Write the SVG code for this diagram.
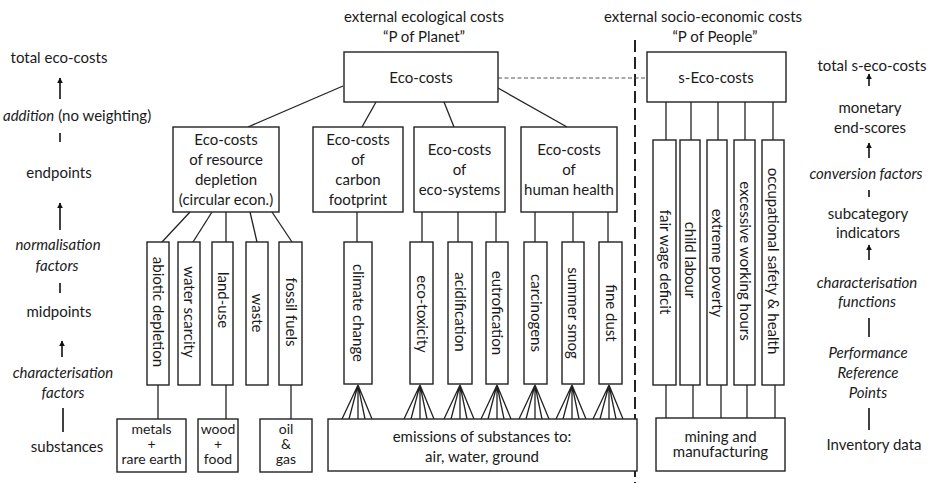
<svg xmlns="http://www.w3.org/2000/svg" width="935" height="483" viewBox="0 0 935 483">
<defs>
<style>
text{font-family:Lato,"Open Sans","Liberation Sans",sans-serif;font-size:15px;fill:#1a1a1a;text-anchor:middle}
.i{font-style:italic}
.s{font-size:14px}
.box{fill:#fff;stroke:#222;stroke-width:1.4}
.ln{stroke:#222;stroke-width:1.3;fill:none}
.ar{stroke:#111;stroke-width:1.6;fill:none}
</style>
<marker id="ah" viewBox="0 0 10 10" refX="9" refY="5" markerWidth="6" markerHeight="6" markerUnits="userSpaceOnUse" orient="auto"><path d="M0,0 L10,5 L0,10 z" fill="#111"/></marker>
</defs>
<rect width="935" height="483" fill="#fff"/>

<!-- left column -->
<g id="left-scale">
<text x="59" y="63">total eco-costs</text>
<line class="ar" x1="60" y1="99" x2="60" y2="78" marker-end="url(#ah)"/>
<text x="3" y="121" style="text-anchor:start"><tspan class="i">addition</tspan> (no weighting)</text>
<line class="ar" x1="60" y1="133" x2="60" y2="142"/>
<text x="59" y="178">endpoints</text>
<line class="ar" x1="60" y1="230" x2="60" y2="203" marker-end="url(#ah)"/>
<text class="i" x="58" y="250">normalisation</text>
<text class="i" x="57" y="271">factors</text>
<line class="ar" x1="60" y1="283" x2="60" y2="293"/>
<text x="59" y="317">midpoints</text>
<line class="ar" x1="62" y1="357" x2="62" y2="341" marker-end="url(#ah)"/>
<text class="i" x="63" y="378">characterisation</text>
<text class="i" x="63" y="398">factors</text>
<line class="ar" x1="63" y1="408" x2="63" y2="432"/>
<text x="67" y="452">substances</text>
</g>

<!-- right column -->
<g id="right-scale">
<text x="872" y="71">total s-eco-costs</text>
<line class="ar" x1="869" y1="86" x2="869" y2="74" marker-end="url(#ah)"/>
<text x="870" y="113">monetary</text>
<text x="870" y="133">end-scores</text>
<line class="ar" x1="869" y1="158" x2="869" y2="143" marker-end="url(#ah)"/>
<text class="i" x="866" y="179">conversion factors</text>
<line class="ar" x1="869" y1="190" x2="869" y2="197"/>
<text x="868" y="219">subcategory</text>
<text x="868" y="238">indicators</text>
<line class="ar" x1="869" y1="260" x2="869" y2="245" marker-end="url(#ah)"/>
<text class="i" x="867" y="288">characterisation</text>
<text class="i" x="867" y="307">functions</text>
<line class="ar" x1="869" y1="318" x2="869" y2="337"/>
<text class="i" x="868" y="358">Performance</text>
<text class="i" x="868" y="378">Reference</text>
<text class="i" x="868" y="398">Points</text>
<line class="ar" x1="869" y1="408" x2="869" y2="430"/>
<text x="874" y="450">Inventory data</text>
</g>

<!-- headings -->
<g id="heading-planet">
<text x="424" y="22">external ecological costs</text>
<text x="424" y="42">“P of Planet”</text>
</g>
<g id="heading-people">
<text x="703" y="22">external socio-economic costs</text>
<text x="715" y="42">“P of People”</text>
</g>

<!-- connectors -->
<g id="connectors">
<line x1="635" y1="40" x2="635" y2="483" stroke="#222" stroke-width="2" stroke-dasharray="12,5"/>
<line x1="498" y1="78" x2="647" y2="78" stroke="#555" stroke-width="1" stroke-dasharray="4,2.5"/>
<line class="ln" x1="343" y1="86" x2="248" y2="127"/>
<line class="ln" x1="376" y1="102" x2="362" y2="127"/>
<line class="ln" x1="444" y1="102" x2="454" y2="127"/>
<line class="ln" x1="498" y1="88" x2="567" y2="127"/>
<line class="ln" x1="190" y1="212" x2="162" y2="242"/>
<line class="ln" x1="212" y1="212" x2="193" y2="242"/>
<line class="ln" x1="226" y1="212" x2="226" y2="242"/>
<line class="ln" x1="250" y1="212" x2="257" y2="242"/>
<line class="ln" x1="272" y1="212" x2="292" y2="242"/>
<line class="ln" x1="357" y1="212" x2="357" y2="242"/>
<line class="ln" x1="422" y1="212" x2="422" y2="242"/>
<line class="ln" x1="458" y1="212" x2="458" y2="242"/>
<line class="ln" x1="496" y1="212" x2="496" y2="242"/>
<line class="ln" x1="535" y1="212" x2="535" y2="242"/>
<line class="ln" x1="573" y1="212" x2="573" y2="242"/>
<line class="ln" x1="608" y1="212" x2="608" y2="242"/>
<line class="ln" x1="158" y1="385" x2="158" y2="419"/>
<line class="ln" x1="226" y1="385" x2="226" y2="419"/>
<line class="ln" x1="291" y1="385" x2="291" y2="419"/>
<g class="ln">
<path d="M358,385 L342,419 M358,385 L349,419 M358,385 L358,419 M358,385 L365,419 M358,385 L372,419"/>
<path d="M420,385 L404,419 M420,385 L411,419 M420,385 L420,419 M420,385 L427,419 M420,385 L434,419"/>
<path d="M460,385 L444,419 M460,385 L451,419 M460,385 L460,419 M460,385 L467,419 M460,385 L474,419"/>
<path d="M497,385 L481,419 M497,385 L488,419 M497,385 L497,419 M497,385 L504,419 M497,385 L511,419"/>
<path d="M535,385 L519,419 M535,385 L526,419 M535,385 L535,419 M535,385 L542,419 M535,385 L549,419"/>
<path d="M572,385 L556,419 M572,385 L563,419 M572,385 L572,419 M572,385 L579,419 M572,385 L586,419"/>
<path d="M609,385 L593,419 M609,385 L600,419 M609,385 L609,419 M609,385 L616,419 M609,385 L623,419"/>
</g>
<line class="ln" x1="666" y1="102" x2="666" y2="140"/>
<line class="ln" x1="691" y1="102" x2="691" y2="140"/>
<line class="ln" x1="718" y1="102" x2="718" y2="140"/>
<line class="ln" x1="745" y1="102" x2="745" y2="140"/>
<line class="ln" x1="773" y1="102" x2="773" y2="140"/>
<line class="ln" x1="666" y1="385" x2="666" y2="418"/>
<line class="ln" x1="693" y1="385" x2="693" y2="418"/>
<line class="ln" x1="721" y1="385" x2="721" y2="418"/>
<line class="ln" x1="747" y1="385" x2="747" y2="418"/>
<line class="ln" x1="775" y1="385" x2="775" y2="418"/>
</g>

<g id="eco-costs"><rect class="box" x="344" y="52" width="154" height="50"/><text x="421" y="83">Eco-costs</text></g>
<g id="s-eco-costs"><rect class="box" x="647" y="52" width="139" height="50"/><text x="716" y="83">s-Eco-costs</text></g>

<g id="resource-depletion"><rect class="box" x="173" y="127" width="106" height="85"/>
<text x="226" y="145">Eco-costs</text><text x="226" y="165">of resource</text><text x="226" y="185">depletion</text><text x="226" y="205">(circular econ.)</text></g>
<g id="carbon-footprint"><rect class="box" x="313" y="127" width="90" height="85"/>
<text x="358" y="145">Eco-costs</text><text x="358" y="165">of</text><text x="358" y="185">carbon</text><text x="358" y="205">footprint</text></g>
<g id="eco-systems"><rect class="box" x="414" y="127" width="91" height="85"/>
<text x="459.5" y="155">Eco-costs</text><text x="459.5" y="175">of</text><text x="459.5" y="195">eco-systems</text></g>
<g id="human-health"><rect class="box" x="521" y="127" width="96" height="85"/>
<text x="569" y="155">Eco-costs</text><text x="569" y="175">of</text><text x="569" y="195">human health</text></g>

<g id="abiotic-depletion"><rect class="box" x="147" y="242" width="22" height="143"/><text transform="translate(158,312) rotate(90)" y="5">abiotic depletion</text></g>
<g id="water-scarcity"><rect class="box" x="178" y="242" width="22" height="143"/><text transform="translate(189,312) rotate(90)" y="5">water scarcity</text></g>
<g id="land-use"><rect class="box" x="212" y="242" width="21" height="143"/><text transform="translate(222.5,300) rotate(90)" y="5">land-use</text></g>
<g id="waste"><rect class="box" x="246" y="242" width="22" height="143"/><text transform="translate(257,313) rotate(90)" y="5">waste</text></g>
<g id="fossil-fuels"><rect class="box" x="279" y="242" width="23" height="143"/><text transform="translate(290.5,312) rotate(90)" y="5">fossil fuels</text></g>

<g id="climate-change"><rect class="box" x="344" y="242" width="28" height="142"/><text transform="translate(358,313) rotate(90)" y="5">climate change</text></g>
<g id="eco-toxicity"><rect class="box" x="410" y="242" width="23" height="142"/><text transform="translate(421.5,314) rotate(90)" y="5">eco-toxicity</text></g>
<g id="acidification"><rect class="box" x="448" y="242" width="24" height="142"/><text transform="translate(460,312) rotate(90)" y="5">acidification</text></g>
<g id="eutrofication"><rect class="box" x="486" y="242" width="22" height="142"/><text transform="translate(497,313) rotate(90)" y="5">eutrofication</text></g>
<g id="carcinogens"><rect class="box" x="524" y="242" width="23" height="142"/><text transform="translate(535.5,313) rotate(90)" y="5">carcinogens</text></g>
<g id="summer-smog"><rect class="box" x="562" y="242" width="22" height="142"/><text transform="translate(573,313) rotate(90)" y="5">summer smog</text></g>
<g id="fine-dust"><rect class="box" x="599" y="242" width="23" height="142"/><text transform="translate(610.5,313) rotate(90)" y="5">fine dust</text></g>

<g id="fair-wage-deficit"><rect class="box" x="653" y="140" width="23" height="245"/><text transform="translate(664.5,262) rotate(90)" y="5">fair wage deficit</text></g>
<g id="child-labour"><rect class="box" x="680" y="140" width="20" height="245"/><text transform="translate(690,260) rotate(90)" y="5">child labour</text></g>
<g id="extreme-poverty"><rect class="box" x="707" y="140" width="20" height="245"/><text transform="translate(717,263) rotate(90)" y="5">extreme poverty</text></g>
<g id="excessive-working-hours"><rect class="box" x="734" y="140" width="21" height="245"/><text transform="translate(744.5,261) rotate(90)" y="5">excessive working hours</text></g>
<g id="occupational-safety"><rect class="box" x="762" y="140" width="22" height="245"/><text transform="translate(773,261) rotate(90)" y="5">occupational safety &amp; health</text></g>

<g id="metals"><rect class="box" x="117" y="419" width="69" height="53"/>
<text class="s" x="151.5" y="434">metals</text><text class="s" x="151.5" y="449">+</text><text class="s" x="151.5" y="464">rare earth</text></g>
<g id="wood-food"><rect class="box" x="198" y="419" width="40" height="53"/>
<text class="s" x="218" y="434">wood</text><text class="s" x="218" y="449">+</text><text class="s" x="218" y="464">food</text></g>
<g id="oil-gas"><rect class="box" x="260" y="419" width="52" height="53"/>
<text class="s" x="286" y="434">oil</text><text class="s" x="286" y="449">&amp;</text><text class="s" x="286" y="464">gas</text></g>
<g id="emissions"><rect class="box" x="328" y="419" width="309" height="52"/>
<text x="482" y="442">emissions of substances to:</text><text x="482" y="462">air, water, ground</text></g>
<g id="mining"><rect class="box" x="656" y="418" width="129" height="53"/>
<text x="720.5" y="442">mining and</text><text x="720.5" y="457">manufacturing</text></g>
</svg>
